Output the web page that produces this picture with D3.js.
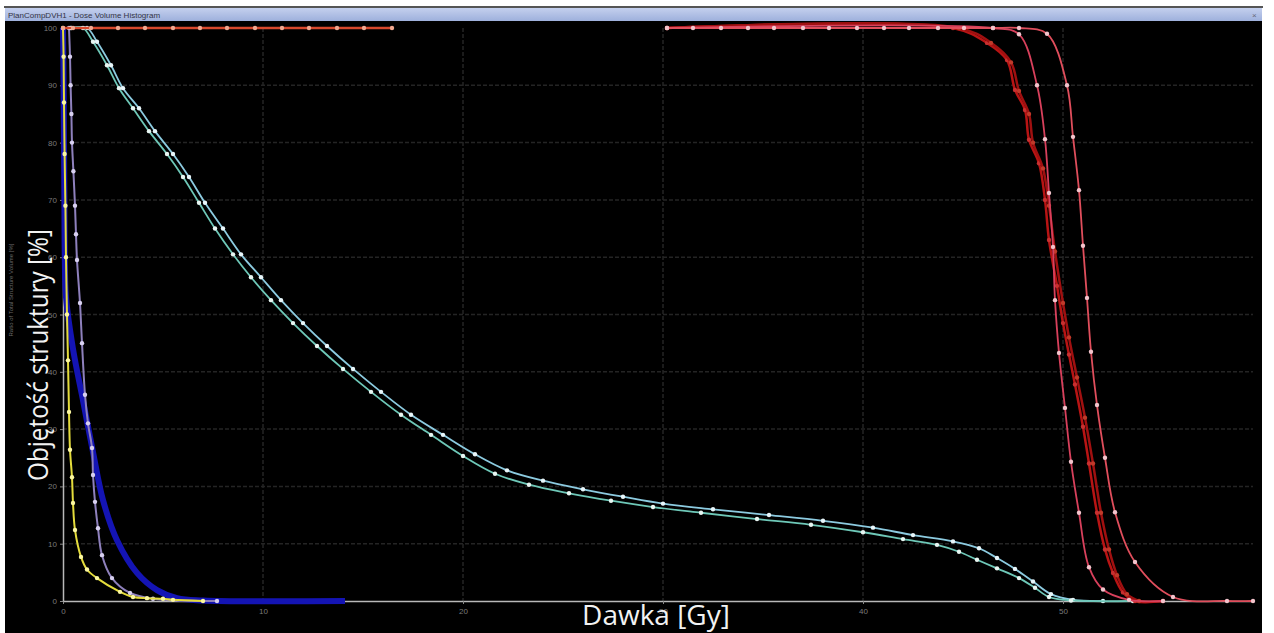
<!DOCTYPE html>
<html>
<head>
<meta charset="utf-8">
<script src="https://cdn.jsdelivr.net/npm/d3@7"></script>
<style>
  body { margin: 0; background: #fff; }
  svg { display: block; }
</style>
</head>
<body>
<div id="chart"></div>
<script>
// dose [Gy], volume [%]
var doseTicks = [0, 10, 20, 30, 40, 50];
var volumeTicks = [0, 10, 20, 30, 40, 50, 60, 70, 80, 90, 100];

var yellowDvh = [[0,100],[0.03,95],[0.05,87],[0.08,78],[0.12,69],[0.15,60],[0.2,50],[0.25,42],[0.3,33],[0.35,26.4],[0.45,21.6],[0.5,17.1],[0.6,12.4],[0.9,7.7],[1.2,5.5],[1.7,4],[2.85,1.6],[3.5,0.7],[4.2,0.5],[5,0.4],[5.5,0.2],[7,0]];
var purpleDvh = [[0.3,100],[0.35,95],[0.38,90],[0.42,85],[0.45,80],[0.52,75],[0.6,69],[0.65,64],[0.7,59.5],[0.85,52],[0.95,45],[1.1,36],[1.25,31],[1.45,26.7],[1.5,22],[1.6,17.3],[1.75,12.7],[1.95,8],[2.45,4],[3.35,1.4],[4.5,0.4],[7.7,0]];
var blueDvh = [[0,100],[0.03,90],[0.05,80],[0.07,70],[0.09,60],[0.15,53],[0.5,44],[1,35],[1.5,26],[2,17.6],[2.7,10.6],[3.7,4.9],[4.7,1.9],[5.7,0.5],[7,0.1],[14.1,0]];
var cyanDvh1 = [[0.4,100],[1,100],[1.5,97.6],[2.2,93.5],[2.8,89.5],[3.5,86],[4.3,82],[5.2,78],[6,74],[6.8,69.5],[7.6,65],[8.5,60.5],[9.4,56.5],[10.4,52.5],[11.5,48.5],[12.7,44.5],[14,40.5],[15.4,36.5],[16.9,32.5],[18.4,29],[20,25.3],[21.6,22.2],[23.3,20.3],[25.3,18.8],[27.4,17.5],[29.5,16.4],[31.9,15.4],[34.7,14.3],[37.4,13.3],[40,12],[42,10.8],[43.7,9.8],[44.8,8.6],[45.7,7.2],[46.7,5.7],[47.8,4],[48.6,2.3],[49.3,0.7],[50.4,0.1],[53.5,0]];
var cyanDvh2 = [[0.4,100],[1.2,100],[1.7,97.6],[2.4,93.5],[3,89.5],[3.8,86],[4.6,82],[5.5,78],[6.3,74],[7.1,69.5],[8,65],[8.9,60.5],[9.9,56.5],[10.9,52.5],[12,48.5],[13.2,44.5],[14.5,40.5],[15.9,36.5],[17.4,32.5],[19,29],[20.6,25.6],[22.2,22.8],[24,21],[26,19.5],[28,18.2],[30,17],[32.5,16],[35.3,15],[38,14],[40.5,12.8],[42.5,11.5],[44.5,10.4],[45.8,9.2],[46.7,7.5],[47.6,5.6],[48.5,3.4],[49.4,1.2],[50.5,0.2],[52,0]];
// PTV curves (the 0-16.5 Gy piece is all that shows of the 100% plateau on the left)
var ptvDvhTop = [[0,100],[0.5,100],[1.4,100],[2.75,100],[4.1,100],[5.5,100],[6.85,100],[8.2,100],[9.6,100],[10.95,100],[12.3,100],[13.7,100],[15.05,100],[16.45,100]];
var ptvDvhA = [[30.2,100],[31.5,100],[32.9,100],[34.25,100],[35.55,100],[37,100],[38.3,100],[39.7,100],[41.05,100],[42.3,100],[43.75,100],[45.05,100],[46.5,100],[47.8,100],[49.2,99],[50.2,90],[50.5,81],[50.8,71.7],[51,62],[51.2,52.9],[51.4,43.5],[51.7,34.2],[52.1,25],[52.6,15.5],[53.6,6.8],[55.5,0.7],[58.2,0],[59.5,0]];
var ptvDvhB = [[30.2,100],[46.5,100],[47.8,98.9],[48.7,90],[49.1,80.6],[49.3,71.2],[49.5,61.8],[49.6,52.5],[49.8,43.3],[50.1,33.7],[50.4,24.3],[50.8,15.4],[51.3,5.9],[52,2],[53.3,0.2],[55,0]];
var ptvDvhC = [[30.2,100],[44.5,100],[46.2,97.4],[47.2,94.4],[47.6,89.2],[48.1,85.7],[48.3,80.5],[48.8,76.4],[49.1,70],[49.3,63],[49.7,55],[50,48.5],[50.3,43],[50.6,37.8],[51,30.4],[51.3,24],[51.7,15.4],[52.1,9],[52.5,4.9],[53,1.5],[53.6,0],[55,0]];
var ptvDvhD = [[30.2,100],[44.8,100],[46.4,97.4],[47.4,94],[47.8,89],[48.3,85],[48.5,80],[49,75.5],[49.3,69],[49.6,61],[50,52],[50.3,46],[50.7,39],[51.1,32],[51.5,24],[51.9,15.4],[52.3,9],[52.7,4.5],[53.2,1.2],[53.8,0]];

var W = 1274, H = 633;

var svg = d3.select("#chart")
    .append("svg")
    .attr("width", W)
    .attr("height", H);

// window frame
svg.append("rect").attr("x", 0).attr("y", 0).attr("width", W).attr("height", H).attr("fill", "#fff");
svg.append("rect").attr("x", 4).attr("y", 6).attr("width", 1259).attr("height", 2).attr("fill", "#555");
svg.append("rect").attr("x", 5).attr("y", 21).attr("width", 1257).attr("height", 612).attr("fill", "#000");

var grad = svg.append("defs").append("linearGradient")
    .attr("id", "titlebar").attr("x1", 0).attr("x2", 0).attr("y1", 0).attr("y2", 1);
grad.append("stop").attr("offset", 0).attr("stop-color", "#c4d0ee");
grad.append("stop").attr("offset", 1).attr("stop-color", "#9eb0dc");
svg.append("rect").attr("x", 5).attr("y", 8).attr("width", 1257).attr("height", 13).attr("fill", "url(#titlebar)");
svg.append("text")
    .attr("x", 8).attr("y", 18)
    .attr("font-family", "Liberation Sans")
    .attr("font-size", "8px")
    .attr("fill", "#334")
    .text("PlanCompDVH1 - Dose Volume Histogram");
svg.append("text")
    .attr("x", 1252).attr("y", 18)
    .attr("font-family", "Liberation Sans")
    .attr("font-size", "8px")
    .attr("fill", "#667")
    .text("×");

var x = d3.scaleLinear().domain([0, 59.5]).range([63, 1253]);
var y = d3.scaleLinear().domain([0, 100]).range([601, 28]);

// grid
svg.append("g")
    .selectAll("line")
    .data(volumeTicks.slice(1, -1))
    .enter()
    .append("line")
    .attr("x1", x(0)).attr("x2", x(59.5))
    .attr("y1", function(d) { return y(d); })
    .attr("y2", function(d) { return y(d); })
    .attr("stroke", "#242424")
    .attr("stroke-width", 1.5)
    .attr("stroke-dasharray", "4,2");
svg.append("g")
    .selectAll("line")
    .data(doseTicks.slice(1))
    .enter()
    .append("line")
    .attr("x1", function(d) { return x(d); })
    .attr("x2", function(d) { return x(d); })
    .attr("y1", y(100)).attr("y2", y(0))
    .attr("stroke", "#242424")
    .attr("stroke-width", 1.5)
    .attr("stroke-dasharray", "4,2");

// axes
var xAxis = svg.append("g")
    .attr("transform", "translate(0," + y(0) + ")")
    .call(d3.axisBottom(x).tickValues(doseTicks).tickSize(3).tickSizeOuter(0));
var yAxis = svg.append("g")
    .attr("transform", "translate(" + x(0) + ",0)")
    .call(d3.axisLeft(y).tickValues(volumeTicks).tickSize(3).tickSizeOuter(0));
[xAxis, yAxis].forEach(function(a) {
    a.select(".domain").attr("stroke", "#b8b8b8").attr("stroke-width", 1.5);
    a.selectAll(".tick line").attr("stroke", "#888");
    a.selectAll(".tick text")
        .attr("fill", "#7a7a7a")
        .attr("font-family", "Liberation Sans")
        .attr("font-size", "8px");
});
yAxis.selectAll(".tick text").attr("x", -6);
xAxis.selectAll(".tick text").attr("y", 7);

var line = d3.line()
    .x(function(d) { return x(d[0]); })
    .y(function(d) { return y(d[1]); })
    .curve(d3.curveCatmullRom.alpha(0.5));

var series = [
    { data: blueDvh, color: "#1414b4", width: 6, marker: null },
    { data: purpleDvh, color: "#8e80bc", width: 2, marker: "#d8d0f0" },
    { data: yellowDvh, color: "#e4dc3c", width: 2, marker: "#fbf7a0" },
    { data: cyanDvh2, color: "#8ccbe0", width: 1.8, marker: "#e8f6fa" },
    { data: cyanDvh1, color: "#6ec8b8", width: 1.8, marker: "#e8f6f2" },
    { data: ptvDvhC, color: "#b81414", width: 2.5, marker: "#c83030" },
    { data: ptvDvhD, color: "#a01010", width: 2.5, marker: "#c03a2a" },
    { data: ptvDvhB, color: "#d8405c", width: 1.8, marker: "#f2c4cc" },
    { data: ptvDvhA, color: "#e04e5c", width: 1.8, marker: "#f2c4cc" },
    { data: ptvDvhTop, color: "#d8482c", width: 2.5, marker: "#f0a890" }
];

series.forEach(function(s) {
    svg.append("path")
        .datum(s.data)
        .attr("fill", "none")
        .attr("stroke", s.color)
        .attr("stroke-width", s.width)
        .attr("d", line);
    if (s.marker) {
        svg.append("g")
            .selectAll("circle")
            .data(s.data)
            .enter()
            .append("circle")
            .attr("cx", function(d) { return x(d[0]); })
            .attr("cy", function(d) { return y(d[1]); })
            .attr("r", 2.2)
            .attr("fill", s.marker);
    }
});

// original small axis caption
svg.append("text")
    .attr("transform", "translate(13,290) rotate(-90)")
    .attr("text-anchor", "middle")
    .attr("font-family", "Liberation Sans")
    .attr("font-size", "6px")
    .attr("fill", "#6a6a6a")
    .text("Ratio of Total Structure Volume [%]");

// overlay labels
svg.append("text")
    .attr("transform", "translate(48,355) rotate(-90)")
    .attr("text-anchor", "middle")
    .attr("font-family", "Open Sans")
    .attr("font-size", "28px")
    .attr("textLength", 252)
    .attr("lengthAdjust", "spacingAndGlyphs")
    .attr("fill", "#f2f2f2")
    .text("Objętość struktury [%]");
svg.append("text")
    .attr("x", 656).attr("y", 625)
    .attr("text-anchor", "middle")
    .attr("font-family", "Open Sans")
    .attr("font-size", "28px")
    .attr("fill", "#f2f2f2")
    .text("Dawka [Gy]");
</script>
</body>
</html>
